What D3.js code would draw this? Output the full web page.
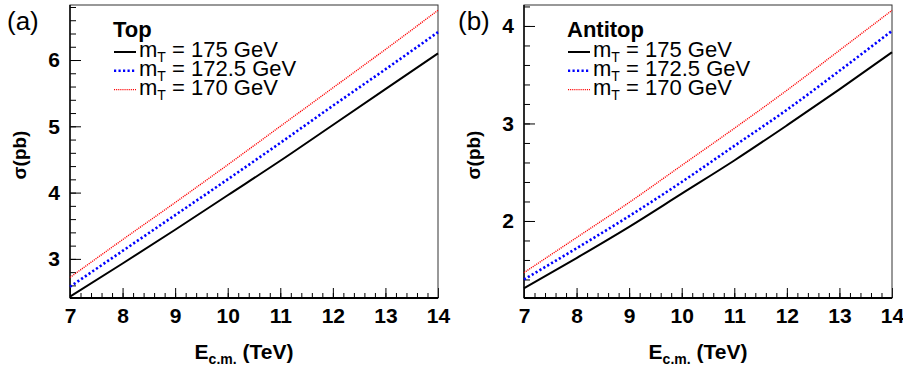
<!DOCTYPE html>
<html>
<head>
<meta charset="utf-8">
<script src="https://cdn.jsdelivr.net/npm/d3@7"></script>
<style>
  body { margin: 0; background: #fff; }
  svg { display: block; font-family: "Liberation Sans", Arial, Helvetica, sans-serif; }
  .tick text { font-size: 21px; font-weight: bold; fill: #000; }
  .tick line { stroke: #000; stroke-width: 1; }
</style>
</head>
<body>
<div id="chart"></div>
<script>
// c.m. energies (TeV)
var energies = [7, 8, 9, 10, 11, 12, 13, 14];

// top cross sections (pb)
var top175  = [2.43, 2.93, 3.44, 3.96, 4.48, 5.02, 5.56, 6.10];
var top1725 = [2.58, 3.12, 3.66, 4.20, 4.75, 5.31, 5.86, 6.42];
var top170  = [2.72, 3.29, 3.85, 4.42, 5.00, 5.58, 6.16, 6.75];

// antitop cross sections (pb)
var anti175  = [1.31, 1.62, 1.94, 2.28, 2.62, 2.98, 3.35, 3.73];
var anti1725 = [1.40, 1.72, 2.05, 2.40, 2.77, 3.14, 3.54, 3.95];
var anti170  = [1.47, 1.83, 2.19, 2.57, 2.95, 3.34, 3.75, 4.16];

var massLabels = ["175", "172.5", "170"];
var xTicks = [7, 8, 9, 10, 11, 12, 13, 14];

var W = 903, H = 368;
var plotTop = 5, plotBottom = 298;

// line styles per mass
var styles = [
  {color: "#000", width: 2, dash: null},
  {color: "#0000ff", width: 2.6, dash: "2.2,2.3"},
  {color: "#ff0000", width: 1.4, dash: "1.1,1"}
];

var panels = [
  {left: 70, right: 438, tag: "(a)", tagX: 7, name: "Top",
   yDomain: [2.41, 6.83], yMajor: [3, 4, 5, 6],
   series: [top175, top1725, top170]},
  {left: 524, right: 892, tag: "(b)", tagX: 458, name: "Antitop",
   yDomain: [1.21, 4.215], yMajor: [2, 3, 4],
   series: [anti175, anti1725, anti170]}
];

var svg = d3.select("#chart").append("svg")
    .attr("width", W)
    .attr("height", H);

panels.forEach(function(p) {
  var x = d3.scaleLinear().domain([7, 14]).range([p.left, p.right]);
  var y = d3.scaleLinear().domain(p.yDomain).range([plotBottom, plotTop]);

  // minor ticks every 0.2
  var xMinor = d3.range(7, 14.001, 0.2).map(function(v) { return +v.toFixed(1); });
  var yMinor = d3.range(Math.ceil(p.yDomain[0] * 5) / 5, p.yDomain[1], 0.2).map(function(v) { return +v.toFixed(1); });

  svg.append("g")
    .attr("transform", "translate(0," + plotBottom + ")")
    .call(d3.axisBottom(x).tickValues(xMinor).tickSize(-5).tickFormat(""))
    .call(function(g) { g.select(".domain").remove(); });

  svg.append("g")
    .attr("transform", "translate(0," + plotBottom + ")")
    .call(d3.axisBottom(x).tickValues(xTicks).tickSize(-10).tickPadding(10.5).tickFormat(d3.format("d")))
    .call(function(g) { g.select(".domain").remove(); });

  svg.append("g")
    .attr("transform", "translate(" + p.left + ",0)")
    .call(d3.axisLeft(y).tickValues(yMinor).tickSize(-6).tickFormat(""))
    .call(function(g) { g.select(".domain").remove(); });

  svg.append("g")
    .attr("transform", "translate(" + p.left + ",0)")
    .call(d3.axisLeft(y).tickValues(p.yMajor).tickSize(-11).tickPadding(10).tickFormat(d3.format("d")))
    .call(function(g) { g.select(".domain").remove(); });

  // frame
  svg.append("rect")
    .attr("x", p.left).attr("y", plotTop)
    .attr("width", p.right - p.left).attr("height", plotBottom - plotTop)
    .attr("fill", "none").attr("stroke", "#333").attr("stroke-width", 1);
  svg.append("line")
    .attr("x1", p.left).attr("x2", p.right).attr("y1", plotBottom).attr("y2", plotBottom)
    .attr("stroke", "#000").attr("stroke-width", 2);
  svg.append("line")
    .attr("x1", p.left).attr("x2", p.left).attr("y1", plotTop).attr("y2", plotBottom)
    .attr("stroke", "#000").attr("stroke-width", 1.4);

  // curves
  var line = d3.line()
    .x(function(d, i) { return x(energies[i]); })
    .y(function(d) { return y(d); })
    .curve(d3.curveMonotoneX);

  p.series.forEach(function(s, k) {
    svg.append("path")
      .datum(s)
      .attr("d", line)
      .attr("fill", "none")
      .attr("stroke", styles[k].color)
      .attr("stroke-width", styles[k].width)
      .attr("stroke-dasharray", styles[k].dash);
  });

  // panel tag
  svg.append("text")
    .attr("x", p.tagX).attr("y", 30)
    .style("font-size", "26px")
    .text(p.tag);

  // y title
  var cx = p.left - 51, cy = 155;
  svg.append("text")
    .attr("transform", "translate(" + cx + "," + cy + ") rotate(-90)")
    .attr("text-anchor", "middle")
    .attr("dy", "0.35em")
    .style("font-size", "19px").style("font-weight", "bold")
    .text("σ(pb)");

  // x title
  var xt = svg.append("text")
    .attr("x", (p.left + p.right) / 2 - 10).attr("y", 359)
    .attr("text-anchor", "middle")
    .style("font-size", "21px").style("font-weight", "bold");
  xt.append("tspan").text("E");
  xt.append("tspan").attr("dy", 5).style("font-size", "14px").text("c.m.");
  xt.append("tspan").attr("dy", -5).text(" (TeV)");

  // legend
  var lx = p.left + 43;
  svg.append("text")
    .attr("x", lx).attr("y", 36.5)
    .style("font-size", "22px").style("font-weight", "bold")
    .text(p.name);

  massLabels.forEach(function(m, k) {
    var by = 57 + k * 18.8;
    svg.append("line")
      .attr("x1", lx + 1).attr("x2", lx + 23)
      .attr("y1", by - 5).attr("y2", by - 5)
      .attr("stroke", styles[k].color)
      .attr("stroke-width", styles[k].width)
      .attr("stroke-dasharray", styles[k].dash);
    var t = svg.append("text")
      .attr("x", lx + 26).attr("y", by)
      .style("font-size", "22px");
    t.append("tspan").text("m");
    t.append("tspan").attr("dy", 5).style("font-size", "14px").text("T");
    t.append("tspan").attr("dy", -5).text(" = " + m + " GeV");
  });
});
</script>
</body>
</html>
